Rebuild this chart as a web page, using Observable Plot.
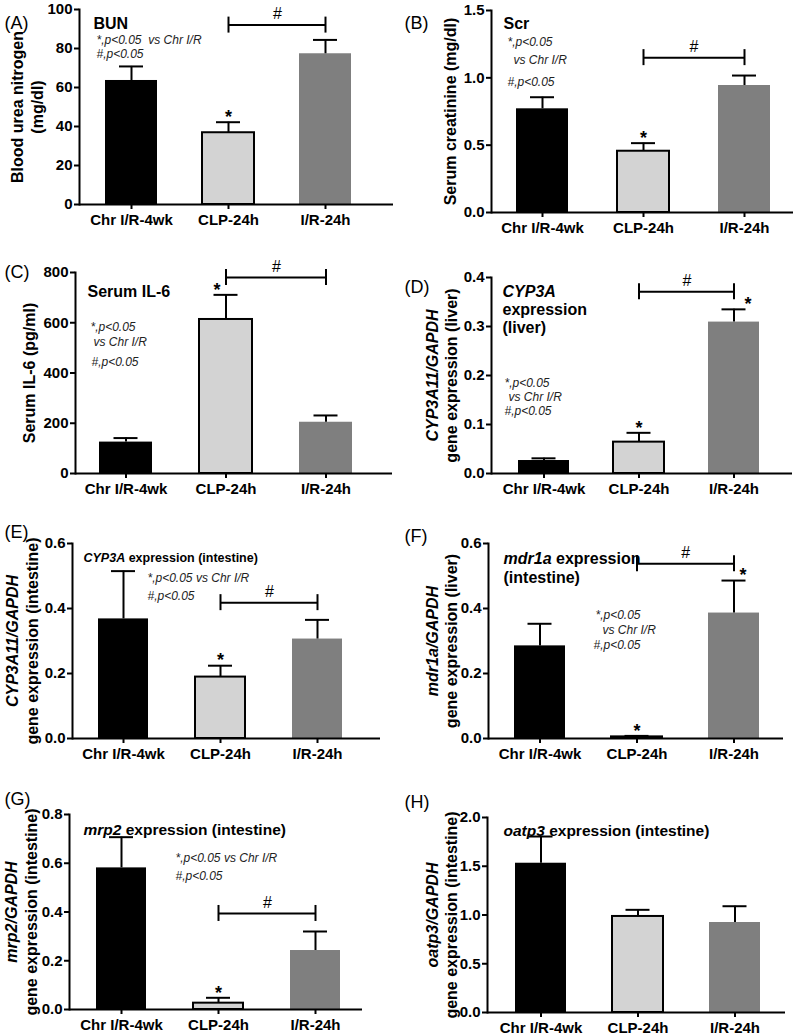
<!DOCTYPE html>
<html><head><meta charset="utf-8">
<script src="https://cdn.jsdelivr.net/npm/d3@7"></script>
<script src="https://cdn.jsdelivr.net/npm/@observablehq/plot@0.6"></script>
<style>
body{margin:0;background:#fff;}
#fig{position:relative;width:800px;height:1036px;font-family:"Liberation Sans",Arial,sans-serif;}
.panel{position:absolute;}
</style></head><body><div id="fig"></div>
<script>
// ---------- data ----------
const categories = ["Chr I/R-4wk", "CLP-24h", "I/R-24h"];

const bunMean = [63.6, 36.8, 77.3];      const bunSem = [7.2, 5.4, 7.1];
const scrMean = [0.77, 0.455, 0.943];    const scrSem = [0.086, 0.06, 0.074];
const il6Mean = [125, 613, 204];         const il6Sem = [16, 98, 27];
const cypLiverMean = [0.0265, 0.064, 0.309]; const cypLiverSem = [0.0045, 0.019, 0.026];
const cypIntMean = [0.368, 0.189, 0.306];    const cypIntSem = [0.147, 0.035, 0.059];
const mdr1aMean = [0.285, 0.005, 0.386];     const mdr1aSem = [0.068, 0.003, 0.1];
const mrp2Mean = [0.581, 0.026, 0.242];      const mrp2Sem = [0.126, 0.022, 0.078];
const oatp3Mean = [1.531, 0.985, 0.923];     const oatp3Sem = [0.274, 0.068, 0.167];

const ticksA = [0, 20, 40, 60, 80, 100];
const ticksB = [0, 0.5, 1.0, 1.5];
const ticksC = [0, 200, 400, 600, 800];
const ticksD = [0, 0.1, 0.2, 0.3, 0.4];
const ticksE = [0, 0.2, 0.4, 0.6];
const ticksF = [0, 0.2, 0.4, 0.6];
const ticksG = [0, 0.2, 0.4, 0.6, 0.8];
const ticksH = [0, 0.5, 1.0, 1.5, 2.0];

// significance bracket heights (data units)
const bracketA = 92, bracketB = 1.15, bracketC = 780, bracketD = 0.371,
      bracketE = 0.418, bracketF = 0.538, bracketG = 0.394;

// ---------- styles ----------
const barColors = ["#000000", "#d3d3d3", "#7f7f7f"];
const FONT = '"Liberation Sans", Arial, sans-serif';
const NOTE = "#222";

// ---------- panel definitions ----------
const panels = [
  {label: "(A)", mean: bunMean, sem: bunSem, domain: [0, 100], ticks: ticksA, fmt: d3.format("d"),
   bracket: bracketA, stars: [{i: 1, dx: 0}],
   L: {left: 0, top: 0, height: 250, axisX: 79, axisEnd: 393, c0: 130.5, c2: 326, bw: 52, yTop: 9, yZero: 204, lx: 4, ly: 16},
   ytitles: [{t: "Blood urea nitrogen", x: 17.5}, {t: "(mg/dl)", x: 37.5}],
   notes: [{t: "BUN", x: 93, y: 17, s: 16, w: "bold"},
           {t: "*,p<0.05\u00a0 vs Chr I/R", x: 96, y: 35}, {t: "#,p<0.05", x: 96, y: 49}]},
  {label: "(B)", mean: scrMean, sem: scrSem, domain: [0, 1.5], ticks: ticksB, fmt: d3.format(".1f"),
   bracket: bracketB, stars: [{i: 1, dx: 0}],
   L: {left: 400, top: 0, height: 250, axisX: 491, axisEnd: 793, c0: 541.5, c2: 743.5, bw: 52, yTop: 10, yZero: 212, lx: 404, ly: 16},
   ytitles: [{t: "Serum creatinine (mg/dl)", x: 450}],
   notes: [{t: "Scr", x: 503, y: 17, s: 16, w: "bold"},
           {t: "*,p<0.05", x: 507, y: 37}, {t: "vs Chr I/R", x: 513, y: 55}, {t: "#,p<0.05", x: 507, y: 77}]},
  {label: "(C)", mean: il6Mean, sem: il6Sem, domain: [0, 800], ticks: ticksC, fmt: d3.format("d"),
   bracket: bracketC, stars: [{i: 1, dx: -9}],
   L: {left: 0, top: 250, height: 250, axisX: 75, axisEnd: 392, c0: 125, c2: 326.5, bw: 53, yTop: 272, yZero: 473, lx: 4, ly: 265},
   ytitles: [{t: "Serum IL-6 (pg/ml)", x: 29.5}],
   notes: [{t: "Serum IL-6", x: 87, y: 285, s: 16, w: "bold"},
           {t: "*,p<0.05", x: 90, y: 322}, {t: "vs Chr I/R", x: 93, y: 337}, {t: "#,p<0.05", x: 91, y: 357}]},
  {label: "(D)", mean: cypLiverMean, sem: cypLiverSem, domain: [0, 0.4], ticks: ticksD, fmt: d3.format(".1f"),
   bracket: bracketD, stars: [{i: 1, dx: 0}, {i: 2, dx: 14}],
   L: {left: 400, top: 250, height: 250, axisX: 491, axisEnd: 792, c0: 542.5, c2: 734, bw: 51, yTop: 277, yZero: 473, lx: 404, ly: 280},
   ytitles: [{t: "CYP3A11/GAPDH", x: 432, it: true}, {t: "gene expression (liver)", x: 451}],
   notes: [{t: "CYP3A", x: 502, y: 285, s: 16, w: "bold", it: true},
           {t: "expression", x: 502, y: 303, s: 16, w: "bold"},
           {t: "(liver)", x: 502, y: 321.5, s: 16, w: "bold"},
           {t: "*,p<0.05", x: 504, y: 377.5}, {t: "vs Chr I/R", x: 508, y: 391.7}, {t: "#,p<0.05", x: 504, y: 406}]},
  {label: "(E)", mean: cypIntMean, sem: cypIntSem, domain: [0, 0.6], ticks: ticksE, fmt: d3.format(".1f"),
   bracket: bracketE, stars: [{i: 1, dx: 0}],
   L: {left: 0, top: 500, height: 260, axisX: 72, axisEnd: 380, c0: 122.5, c2: 318, bw: 50, yTop: 543, yZero: 738, lx: 4, ly: 525},
   ytitles: [{t: "CYP3A11/GAPDH", x: 12.5, it: true}, {t: "gene expression (intestine)", x: 32}],
   notes: [{t: "_CYP3A_ expression (intestine)", x: 83, y: 552.5, s: 12.5, w: "bold"},
           {t: "*,p<0.05 vs Chr I/R", x: 147, y: 573}, {t: "#,p<0.05", x: 147, y: 591}]},
  {label: "(F)", mean: mdr1aMean, sem: mdr1aSem, domain: [0, 0.6], ticks: ticksF, fmt: d3.format(".1f"),
   bracket: bracketF, stars: [{i: 1, dx: 0}, {i: 2, dx: 9}],
   L: {left: 400, top: 500, height: 260, axisX: 488, axisEnd: 783, c0: 539, c2: 734, bw: 51, yTop: 543, yZero: 738, lx: 404, ly: 529},
   ytitles: [{t: "mdr1a/GAPDH", x: 432, it: true}, {t: "gene expression (liver)", x: 451}],
   notes: [{t: "_mdr1a_ expression", x: 503, y: 552.5, s: 16, w: "bold"},
           {t: "(intestine)", x: 503, y: 571, s: 16, w: "bold"},
           {t: "*,p<0.05", x: 595, y: 610}, {t: "vs Chr I/R", x: 602, y: 625}, {t: "#,p<0.05", x: 593, y: 640}]},
  {label: "(G)", mean: mrp2Mean, sem: mrp2Sem, domain: [0, 0.8], ticks: ticksG, fmt: d3.format(".1f"),
   bracket: bracketG, stars: [{i: 1, dx: 0}],
   L: {left: 0, top: 760, height: 276, axisX: 69, axisEnd: 362, c0: 120, c2: 315.5, bw: 50, yTop: 814, yZero: 1009, lx: 4, ly: 792},
   ytitles: [{t: "mrp2/GAPDH", x: 11, it: true}, {t: "gene expression (intestine)", x: 31.5}],
   notes: [{t: "_mrp2_ expression (intestine)", x: 83, y: 823, s: 15.5, w: "bold"},
           {t: "*,p<0.05 vs Chr I/R", x: 175, y: 853}, {t: "#,p<0.05", x: 175, y: 871}]},
  {label: "(H)", mean: oatp3Mean, sem: oatp3Sem, domain: [0, 2.0], ticks: ticksH, fmt: d3.format(".1f"),
   bracket: null, stars: [],
   L: {left: 400, top: 760, height: 276, axisX: 487, axisEnd: 785, c0: 539.5, c2: 735, bw: 51, yTop: 817, yZero: 1012, lx: 404, ly: 795},
   ytitles: [{t: "oatp3/GAPDH", x: 432, it: true}, {t: "gene expression (intestine)", x: 451}],
   notes: [{t: "_oatp3_ expression (intestine)", x: 503, y: 824, s: 15.5, w: "bold"}]}
];

function richify(svg) {
  d3.select(svg).selectAll("text").each(function () {
    if (this.childElementCount) return;
    const t = this.textContent;
    if (!t.includes("_")) return;
    this.textContent = "";
    this.setAttribute("style", "white-space:pre");
    t.split("_").forEach((s, k) => {
      if (!s) return;
      const ts = document.createElementNS("http://www.w3.org/2000/svg", "tspan");
      ts.textContent = s;
      if (k % 2) ts.setAttribute("font-style", "italic");
      this.appendChild(ts);
    });
  });
}

const fig = document.getElementById("fig");

for (const p of panels) {
  const L = p.L;
  const width = 400;
  const ml = L.axisX - L.left, mt = L.yTop - L.top;
  const mb = L.top + L.height - L.yZero, mr = L.left + width - L.axisEnd;
  const W = L.axisEnd - L.axisX;
  const step = (L.c2 - L.c0) / 2;
  const leftGap = L.c0 - L.axisX - L.bw / 2;
  const outer = W - 2 * step - L.bw;

  const rows = categories.map((c, i) => ({cat: c, mean: p.mean[i], sem: p.sem[i], top: p.mean[i] + p.sem[i]}));

  const marks = [
    Plot.barY(rows, {x: "cat", y: "mean", fill: "cat"}),
    Plot.barY(rows.filter(d => d.cat === categories[1]), {x: "cat", y: "mean", fill: "none", stroke: "#000", strokeWidth: 2}),
    Plot.ruleX(rows, {x: "cat", y1: "mean", y2: "top", stroke: "#000", strokeWidth: 2}),
    Plot.tickY(rows, {x: "cat", y: "top", stroke: "#000", strokeWidth: 2, insetLeft: (L.bw - 24) / 2, insetRight: (L.bw - 24) / 2}),
    Plot.ruleY([0], {stroke: "#000", strokeWidth: 2}),
    Plot.frame({anchor: "left", stroke: "#000", strokeWidth: 2}),
    Plot.axisY({ticks: p.ticks, tickFormat: p.fmt, tickSize: 5, tickPadding: 2, strokeWidth: 2, fontSize: 15, fontWeight: "bold", label: null}),
    Plot.axisX({tickSize: 5, tickPadding: 5, strokeWidth: 2, fontSize: 15, fontWeight: "bold", label: null}),
    Plot.text([p.label], {frameAnchor: "top-left", dx: L.lx - L.axisX, dy: L.ly - L.yTop, text: d => d, fontSize: 18, textAnchor: "start", fill: "#000"})
  ];

  for (const yt of p.ytitles) {
    marks.push(Plot.text([yt], {frameAnchor: "left", dx: yt.x - L.axisX, rotate: -90, textAnchor: "middle", text: d => d.t,
      fontSize: 16, fontWeight: "bold", fontStyle: yt.it ? "italic" : "normal", fill: "#000"}));
  }
  for (const n of p.notes) {
    marks.push(Plot.text([n], {frameAnchor: "top-left", dx: n.x - L.axisX, dy: n.y - L.yTop, text: d => d.t,
      textAnchor: "start", fontSize: n.s || 12, fontWeight: n.w || "normal",
      fontStyle: n.it ? "italic" : (n.s ? "normal" : "italic"), fill: n.s ? "#000" : NOTE}));
  }
  if (p.bracket != null) {
    const br = [{from: categories[1], to: categories[2], y: p.bracket}];
    // x1 maps to the band start and x2 to the band end: inset both by half a band to reach the bar centres
    marks.push(Plot.ruleY(br, {x1: "from", x2: "to", y: "y", insetLeft: L.bw / 2, insetRight: L.bw / 2, stroke: "#000", strokeWidth: 2}));
    marks.push(Plot.ruleX([categories[1], categories[2]], {x: d => d, y1: () => p.bracket, y2: () => p.bracket, insetTop: -8, insetBottom: -8, stroke: "#000", strokeWidth: 2}));
    marks.push(Plot.text(br, {x: "from", y: "y", text: () => "#", dx: step / 2, dy: -11, fontSize: 16, fill: "#000"}));
  }
  for (const st of p.stars) {
    marks.push(Plot.text([rows[st.i]], {x: "cat", y: "top", text: () => "*", dx: st.dx, dy: -5, fontSize: 18, fontWeight: "bold", fill: "#000"}));
  }

  const svg = Plot.plot({
    width, height: L.height,
    marginLeft: ml, marginRight: mr, marginTop: mt, marginBottom: mb,
    style: {fontFamily: FONT, color: "#000", background: "transparent", overflow: "visible"},
    x: {domain: categories, paddingInner: 1 - L.bw / step, paddingOuter: outer / (2 * step), align: leftGap / outer},
    y: {domain: p.domain},
    color: {domain: categories, range: barColors},
    marks
  });
  richify(svg);
  const wrap = document.createElement("div");
  wrap.className = "panel";
  wrap.style.left = L.left + "px";
  wrap.style.top = L.top + "px";
  wrap.appendChild(svg);
  fig.appendChild(wrap);
}
</script>
</body></html>
